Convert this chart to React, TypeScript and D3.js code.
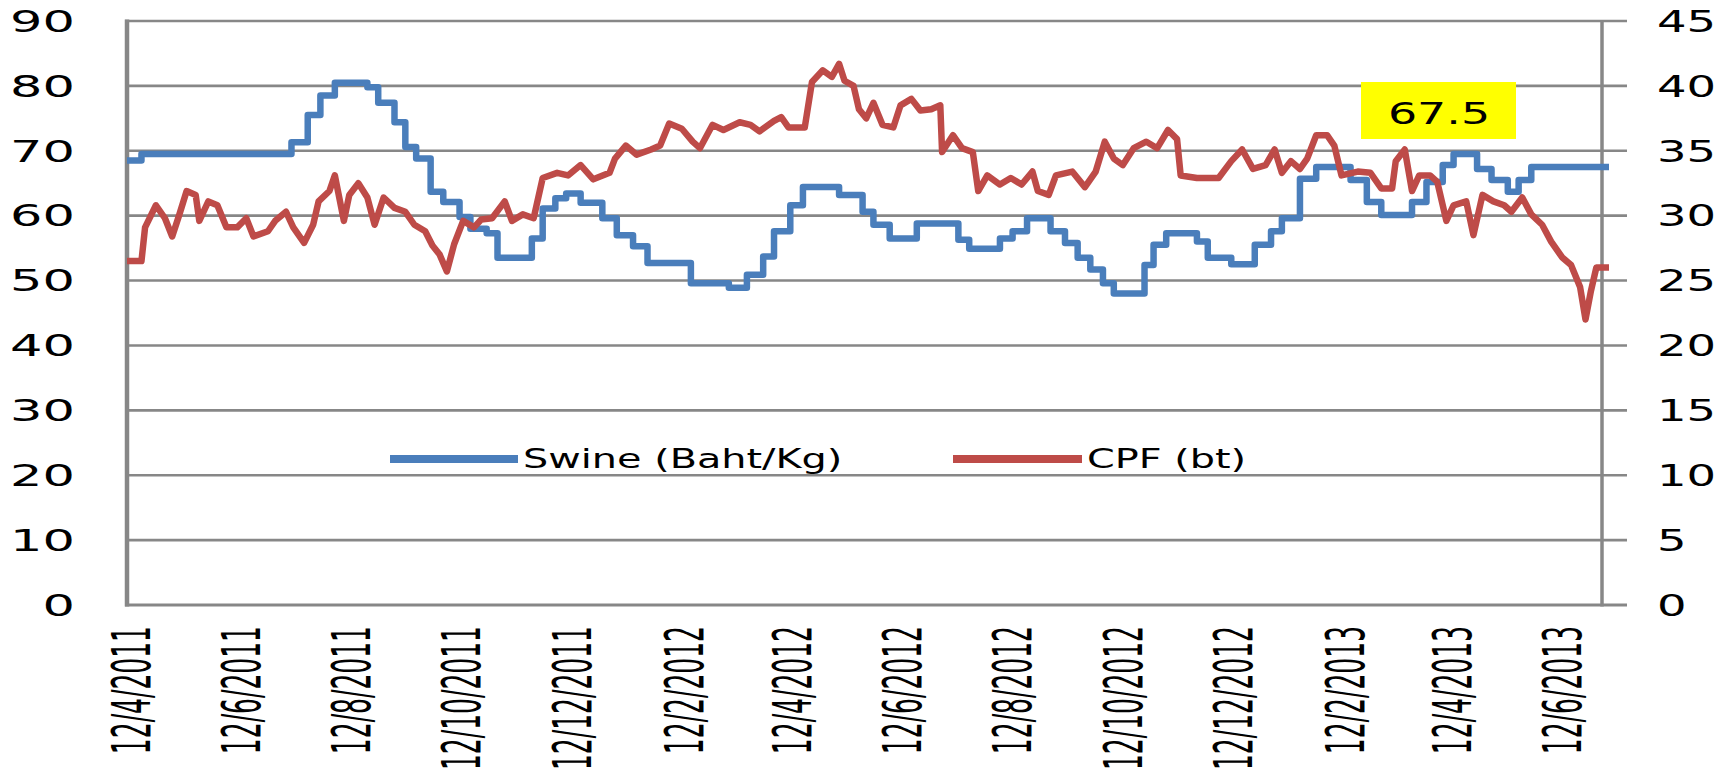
import React from 'react';
import * as d3 from 'd3';

// Swine price (Baht/Kg), left axis
const swineDates = ["2011-04-10","2011-04-18","2011-07-10","2011-07-19","2011-07-26","2011-08-03","2011-08-21","2011-08-27","2011-09-05","2011-09-11","2011-09-17","2011-09-25","2011-10-02","2011-10-11","2011-10-17","2011-10-26","2011-11-01","2011-11-20","2011-11-26","2011-12-03","2011-12-09","2011-12-17","2011-12-29","2012-01-06","2012-01-15","2012-01-23","2012-02-16","2012-03-08","2012-03-18","2012-03-27","2012-04-02","2012-04-11","2012-04-18","2012-05-08","2012-05-21","2012-05-27","2012-06-05","2012-06-20","2012-07-13","2012-07-19","2012-08-05","2012-08-12","2012-08-20","2012-09-02","2012-09-10","2012-09-17","2012-09-24","2012-10-01","2012-10-07","2012-10-24","2012-10-29","2012-11-05","2012-11-22","2012-11-28","2012-12-11","2012-12-24","2013-01-02","2013-01-08","2013-01-18","2013-01-27","2013-02-15","2013-02-24","2013-03-04","2013-03-21","2013-03-29","2013-04-07","2013-04-13","2013-04-26","2013-05-04","2013-05-13","2013-05-19","2013-05-26","2013-07-08"];
const swineValues = [68.5,69.5,71.3,75.5,78.5,80.5,79.8,77.4,74.4,70.6,68.8,63.7,62.1,59.8,58,57.3,53.5,56.5,61.1,62.7,63.4,62,59.6,57,55.3,52.7,49.6,48.9,50.9,53.7,57.6,61.6,64.4,63.2,60.6,58.6,56.5,58.8,56.3,54.9,56.5,57.6,59.6,57.6,55.8,53.5,51.7,49.6,48,52.4,55.5,57.3,56,53.5,52.5,55.5,57.6,59.6,65.7,67.5,65.5,62.1,60.1,62.1,65.2,67.8,69.5,67.2,65.5,63.7,65.5,67.5,67.5];

// CPF share price (bt), right axis
const cpfDates = ["2011-04-10","2011-04-18","2011-04-20","2011-04-26","2011-05-01","2011-05-05","2011-05-09","2011-05-13","2011-05-18","2011-05-20","2011-05-25","2011-05-30","2011-06-04","2011-06-10","2011-06-15","2011-06-19","2011-06-27","2011-07-01","2011-07-07","2011-07-11","2011-07-17","2011-07-22","2011-07-25","2011-07-31","2011-08-03","2011-08-08","2011-08-11","2011-08-16","2011-08-21","2011-08-25","2011-08-30","2011-09-05","2011-09-11","2011-09-16","2011-09-22","2011-09-26","2011-09-30","2011-10-04","2011-10-08","2011-10-13","2011-10-19","2011-10-23","2011-10-29","2011-11-05","2011-11-09","2011-11-15","2011-11-21","2011-11-26","2011-12-04","2011-12-10","2011-12-17","2011-12-24","2012-01-02","2012-01-05","2012-01-11","2012-01-17","2012-01-25","2012-01-30","2012-02-04","2012-02-11","2012-02-17","2012-02-21","2012-02-28","2012-03-05","2012-03-14","2012-03-20","2012-03-25","2012-04-02","2012-04-06","2012-04-10","2012-04-19","2012-04-23","2012-04-29","2012-05-04","2012-05-08","2012-05-11","2012-05-16","2012-05-19","2012-05-23","2012-05-27","2012-06-01","2012-06-07","2012-06-11","2012-06-17","2012-06-22","2012-06-28","2012-07-03","2012-07-04","2012-07-10","2012-07-15","2012-07-21","2012-07-24","2012-07-29","2012-08-05","2012-08-11","2012-08-17","2012-08-23","2012-08-26","2012-09-01","2012-09-05","2012-09-14","2012-09-21","2012-09-27","2012-10-02","2012-10-07","2012-10-12","2012-10-18","2012-10-25","2012-10-31","2012-11-06","2012-11-11","2012-11-13","2012-11-22","2012-12-04","2012-12-11","2012-12-17","2012-12-23","2012-12-30","2013-01-04","2013-01-08","2013-01-13","2013-01-18","2013-01-22","2013-01-27","2013-02-02","2013-02-06","2013-02-10","2013-02-19","2013-02-26","2013-03-04","2013-03-10","2013-03-12","2013-03-17","2013-03-21","2013-03-25","2013-03-31","2013-04-04","2013-04-09","2013-04-13","2013-04-20","2013-04-24","2013-04-29","2013-05-05","2013-05-11","2013-05-15","2013-05-21","2013-05-26","2013-06-01","2013-06-06","2013-06-12","2013-06-17","2013-06-22","2013-06-25","2013-06-28","2013-07-01","2013-07-08"];
const cpfValues = [26.5,26.5,29.1,30.8,29.8,28.4,30.1,31.9,31.6,29.6,31.1,30.8,29.1,29.1,29.8,28.4,28.8,29.6,30.3,29.1,27.9,29.3,31.1,31.9,33.1,29.6,31.6,32.5,31.4,29.3,31.4,30.6,30.3,29.3,28.8,27.7,27.0,25.7,27.8,29.6,29.1,29.7,29.8,31.1,29.6,30.1,29.8,32.9,33.3,33.1,33.9,32.8,33.3,34.4,35.4,34.7,35.1,35.4,37.1,36.7,35.7,35.2,37.0,36.6,37.2,37.0,36.5,37.3,37.6,36.8,36.8,40.3,41.2,40.7,41.7,40.4,40.0,38.2,37.5,38.7,37.0,36.8,38.5,39.0,38.1,38.2,38.5,34.9,36.2,35.2,34.9,31.9,33.1,32.4,32.9,32.4,33.4,31.9,31.6,33.1,33.4,32.2,33.4,35.7,34.4,33.9,35.2,35.7,35.2,36.6,35.9,33.1,32.9,32.9,34.2,35.1,33.6,33.9,35.1,33.3,34.2,33.6,34.4,36.2,36.2,35.4,33.1,33.4,33.3,32.1,32.1,34.2,35.1,31.9,33.1,33.1,32.6,29.6,30.8,31.1,28.5,31.6,31.1,30.8,30.3,31.4,30.1,29.3,28.0,26.8,26.2,24.5,22.0,24.2,26.0,26.0];

const leftTicks = [0, 10, 20, 30, 40, 50, 60, 70, 80, 90];
const rightTicks = [0, 5, 10, 15, 20, 25, 30, 35, 40, 45];
const xTickDates = ["2011-04-12","2011-06-12","2011-08-12","2011-10-12","2011-12-12","2012-02-12","2012-04-12","2012-06-12","2012-08-12","2012-10-12","2012-12-12","2013-02-12","2013-04-12","2013-06-12"];
const xTickLabels = ["12/4/2011","12/6/2011","12/8/2011","12/10/2011","12/12/2011","12/2/2012","12/4/2012","12/6/2012","12/8/2012","12/10/2012","12/12/2012","12/2/2013","12/4/2013","12/6/2013"];
const seriesNames = ["Swine (Baht/Kg)", "CPF (bt)"];
const seriesColors = ["#4a7ebb", "#be4b48"];

const FONT = "'DejaVu Sans', Verdana, sans-serif";
const GRID = "#878787";

export default function App() {
  const W = 1722, H = 770;
  const parse = d3.timeParse("%Y-%m-%d");
  const x = d3.scaleTime()
    .domain([parse("2011-04-10") as Date, parse("2013-07-08") as Date])
    .range([127, 1609]);
  const yL = d3.scaleLinear().domain([0, 90]).range([605, 21]);
  const yR = d3.scaleLinear().domain([0, 45]).range([605, 21]);

  const swine = swineDates.map((d, i) => ({ d: parse(d) as Date, v: swineValues[i] }));
  const cpf = cpfDates.map((d, i) => ({ d: parse(d) as Date, v: cpfValues[i] }));

  const swineLine = d3.line<{ d: Date; v: number }>()
    .x(p => x(p.d)).y(p => yL(p.v)).curve(d3.curveStepAfter);
  const cpfLine = d3.line<{ d: Date; v: number }>()
    .x(p => x(p.d)).y(p => yR(p.v));

  const gridX0 = 125, gridX1 = 1627, rightAxisX = 1602;
  const last = swineValues[swineValues.length - 1];

  return (
    <svg width={W} height={H} style={{ position: 'absolute', left: 0, top: 0, background: '#fff' }}>
      <rect x={0} y={0} width={W} height={H} fill="#fff" />
      {leftTicks.map(t => (
        <line key={'g' + t} x1={gridX0} x2={gridX1} y1={yL(t)} y2={yL(t)} stroke={GRID} strokeWidth={t === 0 ? 3 : 2.6} />
      ))}
      <line x1={127} x2={127} y1={19.5} y2={606.5} stroke={GRID} strokeWidth={4.5} />
      <line x1={rightAxisX} x2={rightAxisX} y1={22} y2={606.5} stroke={GRID} strokeWidth={3.5} />

      {leftTicks.map(t => (
        <text key={'l' + t} transform={`translate(75,${yL(t)}) scale(1.7,1)`} textAnchor="end" dy="0.36em"
          fontFamily={FONT} fontSize={30} fill="#000">{t}</text>
      ))}
      {rightTicks.map(t => (
        <text key={'r' + t} transform={`translate(1657,${yR(t)}) scale(1.55,1)`} textAnchor="start" dy="0.36em"
          fontFamily={FONT} fontSize={30} fill="#000">{t}</text>
      ))}
      {xTickDates.map((d, i) => (
        <text key={'x' + i} transform={`translate(${x(parse(d) as Date)},626) scale(2.1,1) rotate(-90)`}
          textAnchor="end" dy="0.36em" fontFamily={FONT} fontSize={25} fill="#000">{xTickLabels[i]}</text>
      ))}

      <path d={swineLine(swine) || ''} fill="none" stroke={seriesColors[0]} strokeWidth={6.5} strokeLinejoin="round" />
      <path d={cpfLine(cpf) || ''} fill="none" stroke={seriesColors[1]} strokeWidth={6.5} strokeLinejoin="round" />

      {/* legend */}
      <line x1={390} x2={518} y1={459} y2={459} stroke={seriesColors[0]} strokeWidth={8} />
      <text transform="translate(523,468) scale(1.53,1)" fontFamily={FONT} fontSize={26} fill="#000">{seriesNames[0]}</text>
      <line x1={953} x2={1082} y1={459} y2={459} stroke={seriesColors[1]} strokeWidth={8} />
      <text transform="translate(1087,468) scale(1.53,1)" fontFamily={FONT} fontSize={26} fill="#000">{seriesNames[1]}</text>

      {/* last value callout */}
      <rect x={1361} y={82} width={155} height={57} fill="#ffff00" />
      <text transform="translate(1439,124) scale(1.53,1)" textAnchor="middle" fontFamily={FONT} fontSize={30} fill="#000">{last.toFixed(1)}</text>
    </svg>
  );
}
